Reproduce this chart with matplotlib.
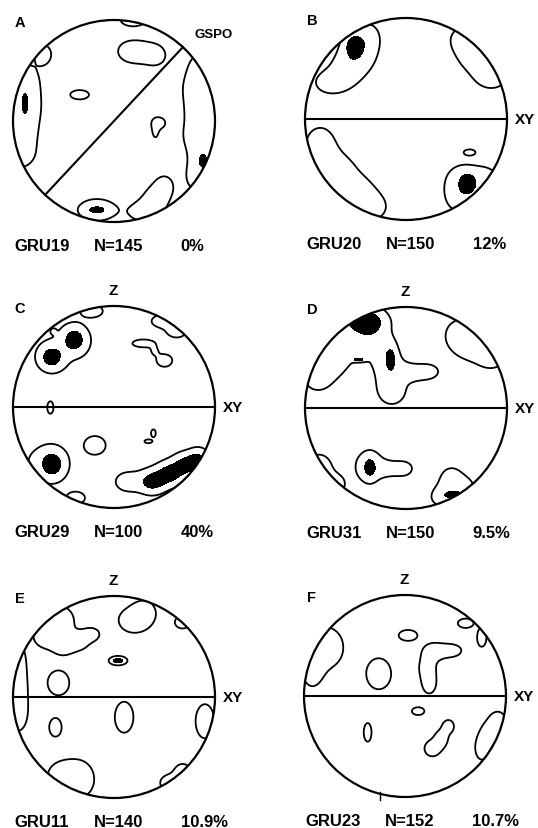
import numpy as np
import matplotlib
matplotlib.use("Agg")
import matplotlib.pyplot as plt
from matplotlib.patches import Circle

plt.rcParams['font.family'] = ['Liberation Sans', 'DejaVu Sans']

#%% data: density maxima read off each net (u, v, spread_u, spread_v, peak), net radius = 1
blobs_A = [(0.19, 1.0, 0.08, 0.04, 2), (0.14, 0.69, 0.07, 0.06, 1.6), (0.28, 0.68, 0.08, 0.07, 1.6),
           (0.42, 0.65, 0.06, 0.06, 1.6), (-0.7, 0.66, 0.05, 0.06, 2), (-0.34, 0.26, 0.06, 0.03, 2),
           (-0.93, 0.45, 0.1, 0.08, 1.6), (-0.93, 0.28, 0.12, 0.1, 1.6), (-0.93, 0.08, 0.12, 0.1, 1.6),
           (-0.95, -0.15, 0.12, 0.1, 1.6), (-0.95, -0.35, 0.1, 0.08, 1.6), (-0.88, 0.17, 0.015, 0.05, 3.5),
           (0.44, -0.02, 0.04, 0.035, 2), (0.41, -0.1, 0.02, 0.045, 1.6),
           (0.9, 0.55, 0.1, 0.1, 1.6), (0.87, 0.33, 0.12, 0.1, 1.6), (0.9, 0.1, 0.12, 0.1, 1.6),
           (0.88, -0.15, 0.13, 0.1, 1.6), (0.9, -0.4, 0.1, 0.1, 1.6), (0.85, -0.58, 0.08, 0.08, 1.6),
           (0.88, -0.39, 0.02, 0.035, 3.5),
           (0.3, -0.9, 0.1, 0.07, 1.6), (0.42, -0.75, 0.08, 0.08, 1.6), (0.5, -0.64, 0.05, 0.06, 1.6),
           (-0.17, -0.88, 0.12, 0.07, 2), (-0.17, -0.88, 0.05, 0.02, 3)]
blobs_B = [(-0.75, 0.36, 0.1, 0.07, 1.7), (-0.58, 0.5, 0.1, 0.1, 1.7), (-0.45, 0.65, 0.1, 0.1, 1.7),
           (-0.38, 0.82, 0.07, 0.08, 1.7), (-0.52, 0.73, 0.05, 0.065, 3.5),
           (0.6, 0.8, 0.1, 0.08, 1.7), (0.7, 0.62, 0.12, 0.1, 1.7), (0.85, 0.42, 0.1, 0.08, 1.7),
           (-0.85, -0.25, 0.1, 0.12, 1.7), (-0.7, -0.5, 0.12, 0.1, 1.7), (-0.5, -0.72, 0.12, 0.1, 1.7),
           (-0.35, -0.88, 0.1, 0.08, 1.7),
           (0.63, -0.33, 0.035, 0.018, 2),
           (0.55, -0.6, 0.09, 0.09, 1.7), (0.78, -0.6, 0.09, 0.08, 1.7), (0.55, -0.78, 0.1, 0.1, 1.7),
           (0.61, -0.64, 0.04, 0.05, 3.5)]
blobs_C = [(-0.39, 0.67, 0.065, 0.07, 4.5), (-0.62, 0.49, 0.065, 0.065, 4.5), (-0.5, 0.58, 0.16, 0.13, 0.8),
           (-0.6, 0.75, 0.015, 0.015, 1.6), (-0.22, 0.95, 0.07, 0.04, 2),
           (0.48, 0.85, 0.07, 0.04, 2), (0.62, 0.75, 0.06, 0.04, 2),
           (0.29, 0.63, 0.07, 0.025, 2), (0.5, 0.46, 0.05, 0.04, 2), (0.4, 0.555, 0.03, 0.03, 1.2),
           (-0.63, -0.005, 0.02, 0.04, 2),
           (0.39, -0.26, 0.015, 0.025, 2), (0.34, -0.34, 0.025, 0.012, 2),
           (-0.19, -0.38, 0.07, 0.06, 2),
           (-0.74, -0.53, 0.14, 0.1, 1.0), (-0.61, -0.57, 0.07, 0.08, 4.5), (-0.38, -0.9, 0.06, 0.04, 2),
           (0.14, -0.74, 0.08, 0.06, 2), (0.38, -0.74, 0.07, 0.06, 4.5), (0.55, -0.66, 0.07, 0.06, 4.5),
           (0.72, -0.57, 0.07, 0.06, 4.5), (0.84, -0.5, 0.05, 0.05, 3)]
blobs_D = [(-0.6, 0.72, 0.15, 0.14, 2), (-0.78, 0.45, 0.1, 0.1, 2), (-0.35, 0.8, 0.08, 0.12, 2),
           (-0.4, 0.86, 0.1, 0.055, 3.5), (-0.88, 0.3, 0.07, 0.07, 2),
           (-0.2, 0.55, 0.07, 0.1, 2), (-0.15, 0.33, 0.08, 0.1, 2), (-0.14, 0.16, 0.07, 0.07, 2),
           (-0.15, 0.49, 0.02, 0.045, 3.5), (-0.47, 0.48, 0.035, 0.01, 4),
           (0.05, 0.35, 0.08, 0.05, 2), (0.22, 0.36, 0.06, 0.04, 2),
           (0.55, 0.72, 0.1, 0.1, 2), (0.72, 0.6, 0.1, 0.08, 2), (0.85, 0.5, 0.07, 0.06, 2),
           (-0.36, -0.58, 0.09, 0.1, 2), (-0.36, -0.59, 0.03, 0.05, 3.5),
           (-0.15, -0.6, 0.07, 0.04, 1.8), (-0.02, -0.6, 0.05, 0.04, 1.8),
           (-0.86, -0.6, 0.08, 0.09, 2), (-0.7, -0.76, 0.06, 0.06, 1.8),
           (0.45, -0.72, 0.07, 0.08, 2), (0.38, -0.88, 0.08, 0.06, 2), (0.58, -0.8, 0.06, 0.06, 1.8),
           (0.47, -0.86, 0.04, 0.015, 3.5)]
blobs_E = [(-0.55, 0.75, 0.1, 0.1, 2), (-0.68, 0.6, 0.07, 0.07, 1.8),
           (-0.5, 0.5, 0.06, 0.05, 2), (-0.35, 0.55, 0.06, 0.05, 2), (-0.22, 0.62, 0.05, 0.04, 1.8),
           (0.2, 0.76, 0.1, 0.08, 2), (0.3, 0.85, 0.06, 0.06, 1.8), (0.68, 0.74, 0.05, 0.04, 2),
           (0.04, 0.36, 0.04, 0.02, 5),
           (-0.97, 0.35, 0.06, 0.12, 2), (-0.98, 0.1, 0.06, 0.1, 2), (-0.95, -0.15, 0.06, 0.12, 2),
           (-0.55, 0.14, 0.07, 0.08, 2), (0.1, -0.2, 0.06, 0.1, 2), (-0.58, -0.3, 0.04, 0.06, 2),
           (0.9, -0.24, 0.06, 0.11, 2),
           (-0.5, -0.78, 0.1, 0.09, 2), (-0.33, -0.82, 0.08, 0.1, 2),
           (0.55, -0.85, 0.06, 0.05, 2), (0.68, -0.74, 0.05, 0.05, 2)]
blobs_F = [(-0.78, 0.48, 0.11, 0.13, 2), (-0.92, 0.25, 0.06, 0.1, 1.8),
           (0.6, 0.72, 0.05, 0.03, 2), (0.76, 0.58, 0.03, 0.06, 2),
           (0.03, 0.6, 0.06, 0.035, 2), (-0.26, 0.22, 0.08, 0.1, 2),
           (0.28, 0.44, 0.06, 0.05, 2), (0.45, 0.45, 0.07, 0.04, 2), (0.22, 0.28, 0.05, 0.07, 2),
           (0.24, 0.12, 0.04, 0.06, 2),
           (0.13, -0.15, 0.04, 0.025, 2), (-0.37, -0.36, 0.025, 0.06, 2),
           (0.27, -0.52, 0.05, 0.05, 2), (0.36, -0.42, 0.04, 0.05, 2), (0.43, -0.3, 0.035, 0.04, 2),
           (0.76, -0.52, 0.04, 0.07, 2), (0.83, -0.38, 0.05, 0.07, 2), (0.92, -0.25, 0.05, 0.06, 2)]

letters = ['A', 'B', 'C', 'D', 'E', 'F']
samples = ['GRU19', 'GRU20', 'GRU29', 'GRU31', 'GRU11', 'GRU23']
n_meas = [145, 150, 100, 150, 140, 152]
percent = ['0%', '12%', '40%', '9.5%', '10.9%', '10.7%']
blobs = [blobs_A, blobs_B, blobs_C, blobs_D, blobs_E, blobs_F]

#%% layout (pixels)
W, H = 538, 829
centres = [(114, 122), (406, 120), (114, 408), (406, 409), (114, 698), (405, 697)]
R = 101
half = 130
lim = half / R
bw = 1.3  # kernel widening

fig = plt.figure(figsize=(W / 100, H / 100), dpi=100)
fig.patch.set_facecolor('white')

g = np.linspace(-1.1, 1.1, 400)
U, V = np.meshgrid(g, g)

for i, (cx, cy) in enumerate(centres):
    ax = fig.add_axes([(cx - half) / W, (H - cy - half) / H, 2 * half / W, 2 * half / H])
    ax.set_xlim(-lim, lim)
    ax.set_ylim(-lim, lim)
    ax.set_aspect('equal')
    ax.axis('off')

    dens = np.zeros_like(U)
    for (u, v, su, sv, a) in blobs[i]:
        dens += a * np.exp(-0.5 * (((U - u) / (bw * su)) ** 2 + ((V - v) / (bw * sv)) ** 2))

    clip = Circle((0, 0), 1, transform=ax.transData)
    cf = ax.contourf(U, V, dens, levels=[3.5, 1e6], colors='black')
    cs = ax.contour(U, V, dens, levels=[1.0], colors='black', linewidths=1.3)
    cf.set_clip_path(clip)
    cs.set_clip_path(clip)

    ax.add_patch(Circle((0, 0), 1, fill=False, ec='black', lw=1.6))

    if letters[i] == 'A':
        ang = np.deg2rad(47)
        ax.plot([-np.cos(ang), np.cos(ang)], [-np.sin(ang), np.sin(ang)], color='black', lw=1.5)
        ax.text(0.8, 0.86, 'GSPO', fontsize=9.5, fontweight='bold', ha='left', va='center')
    else:
        ax.plot([-1, 1], [0, 0], color='black', lw=1.5)
        ax.text(1.08, 0.0, 'XY', fontsize=11, fontweight='bold', ha='left', va='center')
        if i >= 2:
            ax.text(-0.01, 1.16, 'Z', fontsize=11, fontweight='bold', ha='center', va='center')
    if letters[i] == 'F':
        ax.plot([-0.25, -0.25], [-1.03, -0.95], color='black', lw=1.0)

    ax.text(-0.93, 0.98, letters[i], fontsize=10.5, fontweight='bold', ha='center', va='center')
    ax.text(-0.99, -1.23, samples[i], fontsize=12, fontweight='bold', ha='left', va='center')
    ax.text(-0.2, -1.23, 'N=%d' % n_meas[i], fontsize=12, fontweight='bold', ha='left', va='center')
    ax.text(0.66, -1.23, percent[i], fontsize=12, fontweight='bold', ha='left', va='center')

fig.savefig('out.png', dpi=100, facecolor='white')
